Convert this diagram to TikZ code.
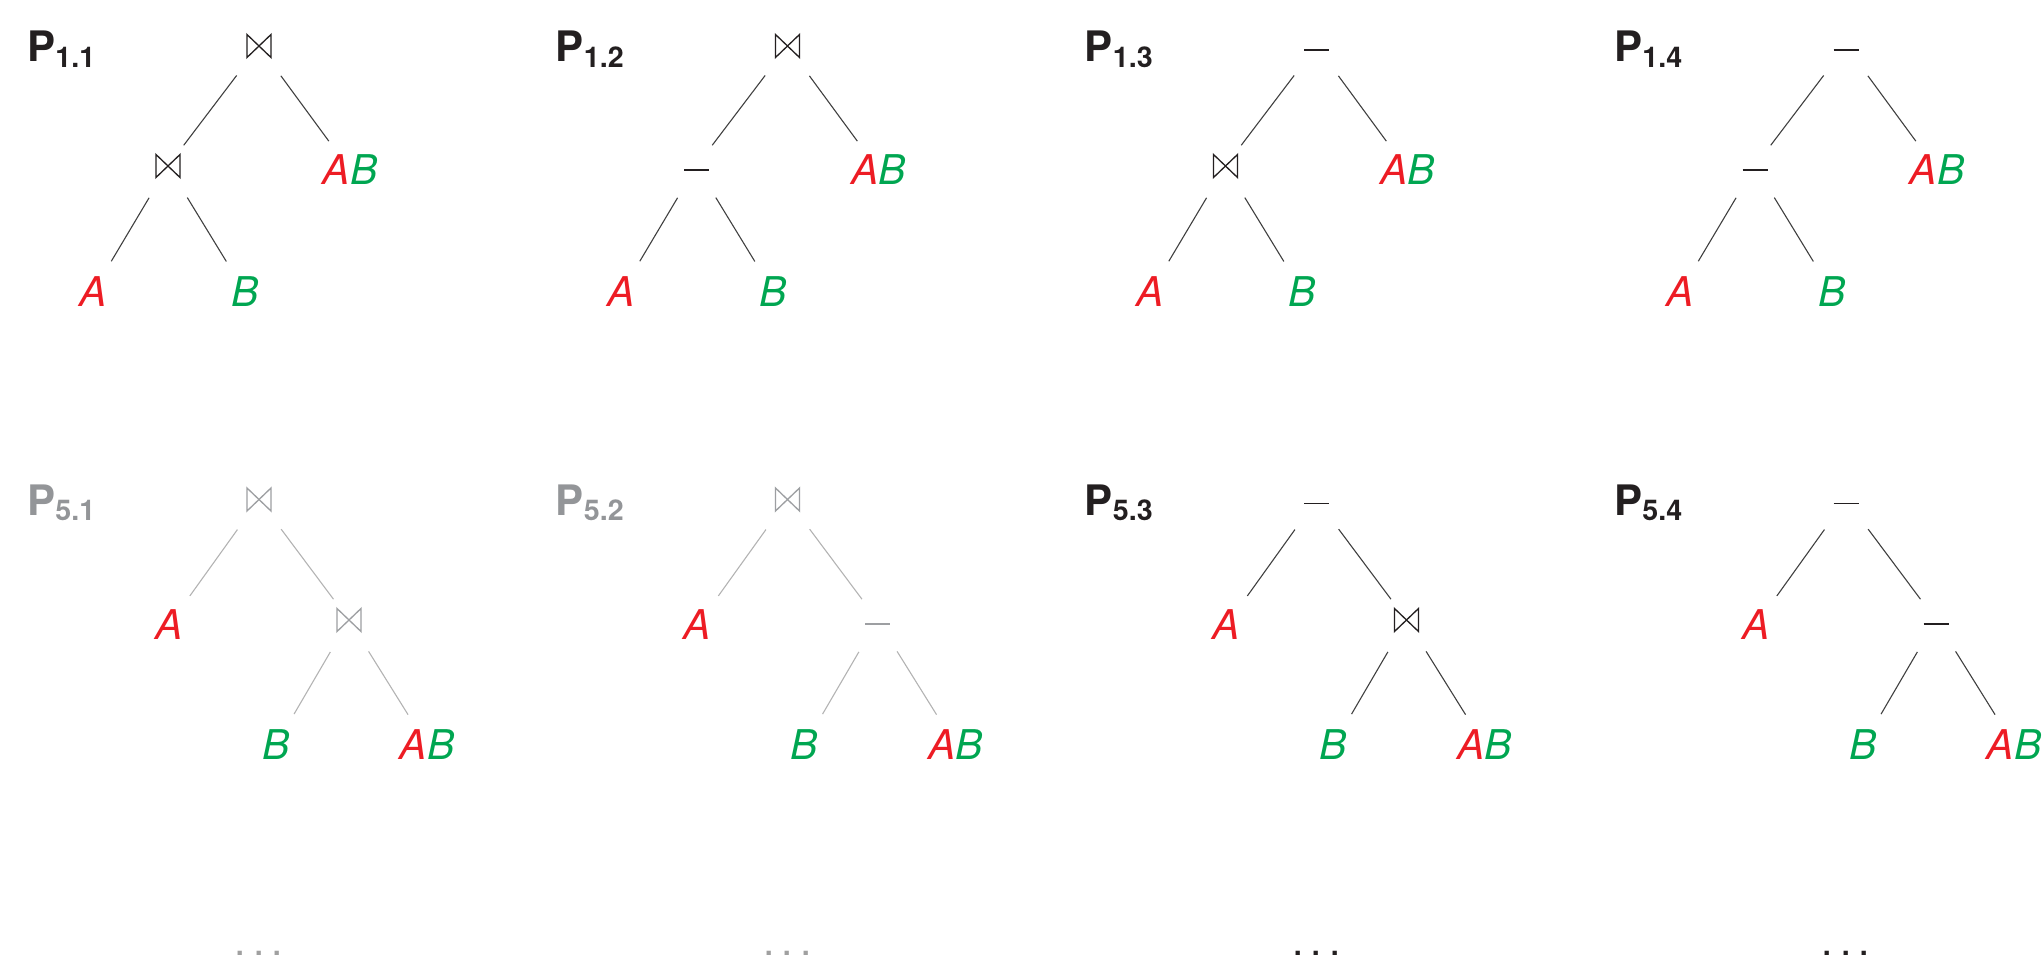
\documentclass[tikz,border=0pt]{standalone}
\usepackage{fontspec}
\setmainfont{TeX Gyre Heros}
\definecolor{tred}{HTML}{ED1C24}
\definecolor{tgreen}{HTML}{00A651}
\definecolor{dkop}{HTML}{231F20}
\definecolor{dkedge}{HTML}{404040}
\definecolor{dklab}{HTML}{231F20}
\definecolor{dkdots}{HTML}{231F20}
\definecolor{gyop}{HTML}{9D9FA2}
\definecolor{gyedge}{HTML}{B3B3B3}
\definecolor{gylab}{HTML}{939598}
\definecolor{gydots}{HTML}{A0A0A0}
\tikzset{
  opbase/.style={circle, minimum size=25.6pt, inner sep=0pt, fill=white},
  joinop/.style={opbase, path picture={\draw[#1, line width=0.65pt, line join=miter]
      ([shift={(-6pt,5.75pt)}]path picture bounding box.center) -- ++(0pt,-11.5pt)
      -- ++(12pt,11.5pt) -- ++(0pt,-11.5pt) -- cycle;}},
  minusop/.style={opbase, path picture={\draw[#1, line width=0.85pt]
      ([shift={(-6.25pt,-2pt)}]path picture bounding box.center) -- ++(12.5pt,0pt);}},
  leaf/.style={circle, minimum size=35.4pt, inner sep=0pt,
      font=\fontsize{20.5}{24}\selectfont\itshape},
  conn/.style={draw=#1, line width=0.55pt, shorten <=5.5pt},
  plabel/.style={anchor=base west, inner sep=0pt,
      font=\fontsize{21}{24}\selectfont\bfseries, text=#1},
  dotrow/.style={anchor=base, inner sep=0pt, font=\fontsize{20.5}{24}\selectfont, text=#1},
}
\newcommand\LTree[6]{%
  \node[#3=#6op] (#1r) at ({#2+259},46) {};
  \node[#4=#6op] (#1m) at ({#2+168},166) {};
  \node[leaf] (#1ab) at ({#2+350},170) {\textcolor{tred}{A}\textcolor{tgreen}{B}};
  \node[leaf, text=tred] (#1a) at ({#2+93},292) {A};
  \node[leaf, text=tgreen] (#1b) at ({#2+245},292) {B};
  \draw[conn=#6edge] (#1r) -- (#1m);
  \draw[conn=#6edge] (#1r) -- (#1ab);
  \draw[conn=#6edge] (#1m) -- (#1a);
  \draw[conn=#6edge] (#1m) -- (#1b);
  \node[plabel=#6lab] (#1lab) at ({#2+27},62) {P\raisebox{-2.5pt}{\fontsize{14.3}{14}\selectfont #5}};
}
\newcommand\RTree[6]{%
  \node[#3=#6op] (#1r) at ({#2+259},499.5) {};
  \node[leaf, text=tred] (#1a) at ({#2+169},625) {A};
  \node[#4=#6op] (#1m) at ({#2+349},620) {};
  \node[leaf, text=tgreen] (#1b) at ({#2+276},745) {B};
  \node[leaf] (#1ab) at ({#2+427},745) {\textcolor{tred}{A}\textcolor{tgreen}{B}};
  \draw[conn=#6edge] (#1r) -- (#1a);
  \draw[conn=#6edge] (#1r) -- (#1m);
  \draw[conn=#6edge] (#1m) -- (#1b);
  \draw[conn=#6edge] (#1m) -- (#1ab);
  \node[plabel=#6lab] (#1lab) at ({#2+27},515) {P\raisebox{-2.75pt}{\fontsize{14.3}{14}\selectfont #5}};
  \node[dotrow=#6dots] (#1dots) at ({#2+259},955) {.\kern3.5pt.\kern3.5pt.};
}
\begin{document}
\begin{tikzpicture}[x=0.5pt,y=-0.5pt]
\useasboundingbox (0,0) rectangle (2042,963);
\LTree{a}{0}{joinop}{joinop}{1.1}{dk}
\LTree{b}{528.5}{joinop}{minusop}{1.2}{dk}
\LTree{c}{1057.5}{minusop}{joinop}{1.3}{dk}
\LTree{d}{1587}{minusop}{minusop}{1.4}{dk}
\RTree{e}{0}{joinop}{joinop}{5.1}{gy}
\RTree{f}{528.5}{joinop}{minusop}{5.2}{gy}
\RTree{g}{1057.5}{minusop}{joinop}{5.3}{dk}
\RTree{h}{1587}{minusop}{minusop}{5.4}{dk}
\end{tikzpicture}
\end{document}
